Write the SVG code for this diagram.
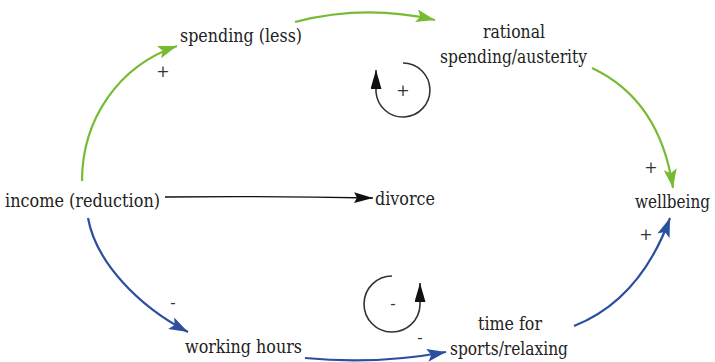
<svg xmlns="http://www.w3.org/2000/svg" width="715" height="362" viewBox="0 0 715 362">
<style>
text{font-family:"DejaVu Serif","Liberation Serif",serif;font-size:18.5px;fill:#222}
.pol{font-size:16px;fill:#333}
.g{fill:none;stroke:#77bb33;stroke-width:2.2}
.b{fill:none;stroke:#2b4fa0;stroke-width:2.2}
.k{fill:none;stroke:#111;stroke-width:1.3}
.loop{fill:none;stroke:#333;stroke-width:1.6}
</style>
<defs>
<marker id="ag" markerUnits="userSpaceOnUse" markerWidth="20" markerHeight="14" refX="19" refY="6.5" orient="auto"><path d="M0,0 L19,6.5 L0,13 L4,6.5 Z" fill="#77bb33"/></marker>
<marker id="ab" markerUnits="userSpaceOnUse" markerWidth="20" markerHeight="14" refX="19" refY="6.5" orient="auto"><path d="M0,0 L19,6.5 L0,13 L4,6.5 Z" fill="#2b4fa0"/></marker>
<marker id="ak" markerUnits="userSpaceOnUse" markerWidth="20" markerHeight="12" refX="19" refY="5.5" orient="auto"><path d="M0,0 L19,5.5 L0,11 L3,5.5 Z" fill="#111"/></marker>
<marker id="al" markerUnits="userSpaceOnUse" markerWidth="20" markerHeight="12" refX="19" refY="5.5" orient="auto"><path d="M0,0 L19,5.5 L0,11 Z" fill="#111"/></marker>
</defs>
<g id="connectors">
<path class="g" d="M82,181 C82,120 118,66 177,46" marker-end="url(#ag)"/>
<path class="g" d="M295,22 Q365,4 435,20" marker-end="url(#ag)"/>
<path class="g" d="M592,68 Q660,100 673,188" marker-end="url(#ag)"/>
<path class="k" d="M165,197 Q270,196 373,198" marker-end="url(#ak)"/>
<path class="b" d="M88,218 C96,262 138,306 188,332" marker-end="url(#ab)"/>
<path class="b" d="M305,358 Q375,365 446,352" marker-end="url(#ab)"/>
<path class="b" d="M574,326 Q640,300 670,218" marker-end="url(#ab)"/>
<text class="pol" x="163" y="77" text-anchor="middle">+</text>
<text class="pol" x="651" y="173" text-anchor="middle">+</text>
<text class="pol" x="646" y="240" text-anchor="middle">+</text>
<text class="pol" x="173" y="308" text-anchor="middle">-</text>
<text class="pol" x="420" y="343" text-anchor="middle">-</text>
</g>
<g id="loop-reinforcing">
<path class="loop" d="M403,63 A27,27 0 1 1 376,92 L376,70" marker-end="url(#al)"/>
<text class="pol" x="403" y="96" text-anchor="middle">+</text>
</g>
<g id="loop-balancing">
<path class="loop" d="M392,276 A28,28 0 1 0 420,305 L420,283" marker-end="url(#al)"/>
<text class="pol" x="393" y="309" text-anchor="middle">-</text>
</g>
<g id="income"><text x="5" y="207" textLength="155" lengthAdjust="spacingAndGlyphs">income (reduction)</text></g>
<g id="spending"><text x="180" y="42" textLength="122" lengthAdjust="spacingAndGlyphs">spending (less)</text></g>
<g id="rational"><text x="483" y="38" textLength="62" lengthAdjust="spacingAndGlyphs">rational</text><text x="440" y="63" textLength="147" lengthAdjust="spacingAndGlyphs">spending/austerity</text></g>
<g id="divorce"><text x="375" y="205" textLength="60" lengthAdjust="spacingAndGlyphs">divorce</text></g>
<g id="wellbeing"><text x="635" y="208" textLength="75" lengthAdjust="spacingAndGlyphs">wellbeing</text></g>
<g id="working-hours"><text x="185" y="353" textLength="117" lengthAdjust="spacingAndGlyphs">working hours</text></g>
<g id="time-for-sports"><text x="478" y="330" textLength="64" lengthAdjust="spacingAndGlyphs">time for</text><text x="450" y="355" textLength="118" lengthAdjust="spacingAndGlyphs">sports/relaxing</text></g>
</svg>
